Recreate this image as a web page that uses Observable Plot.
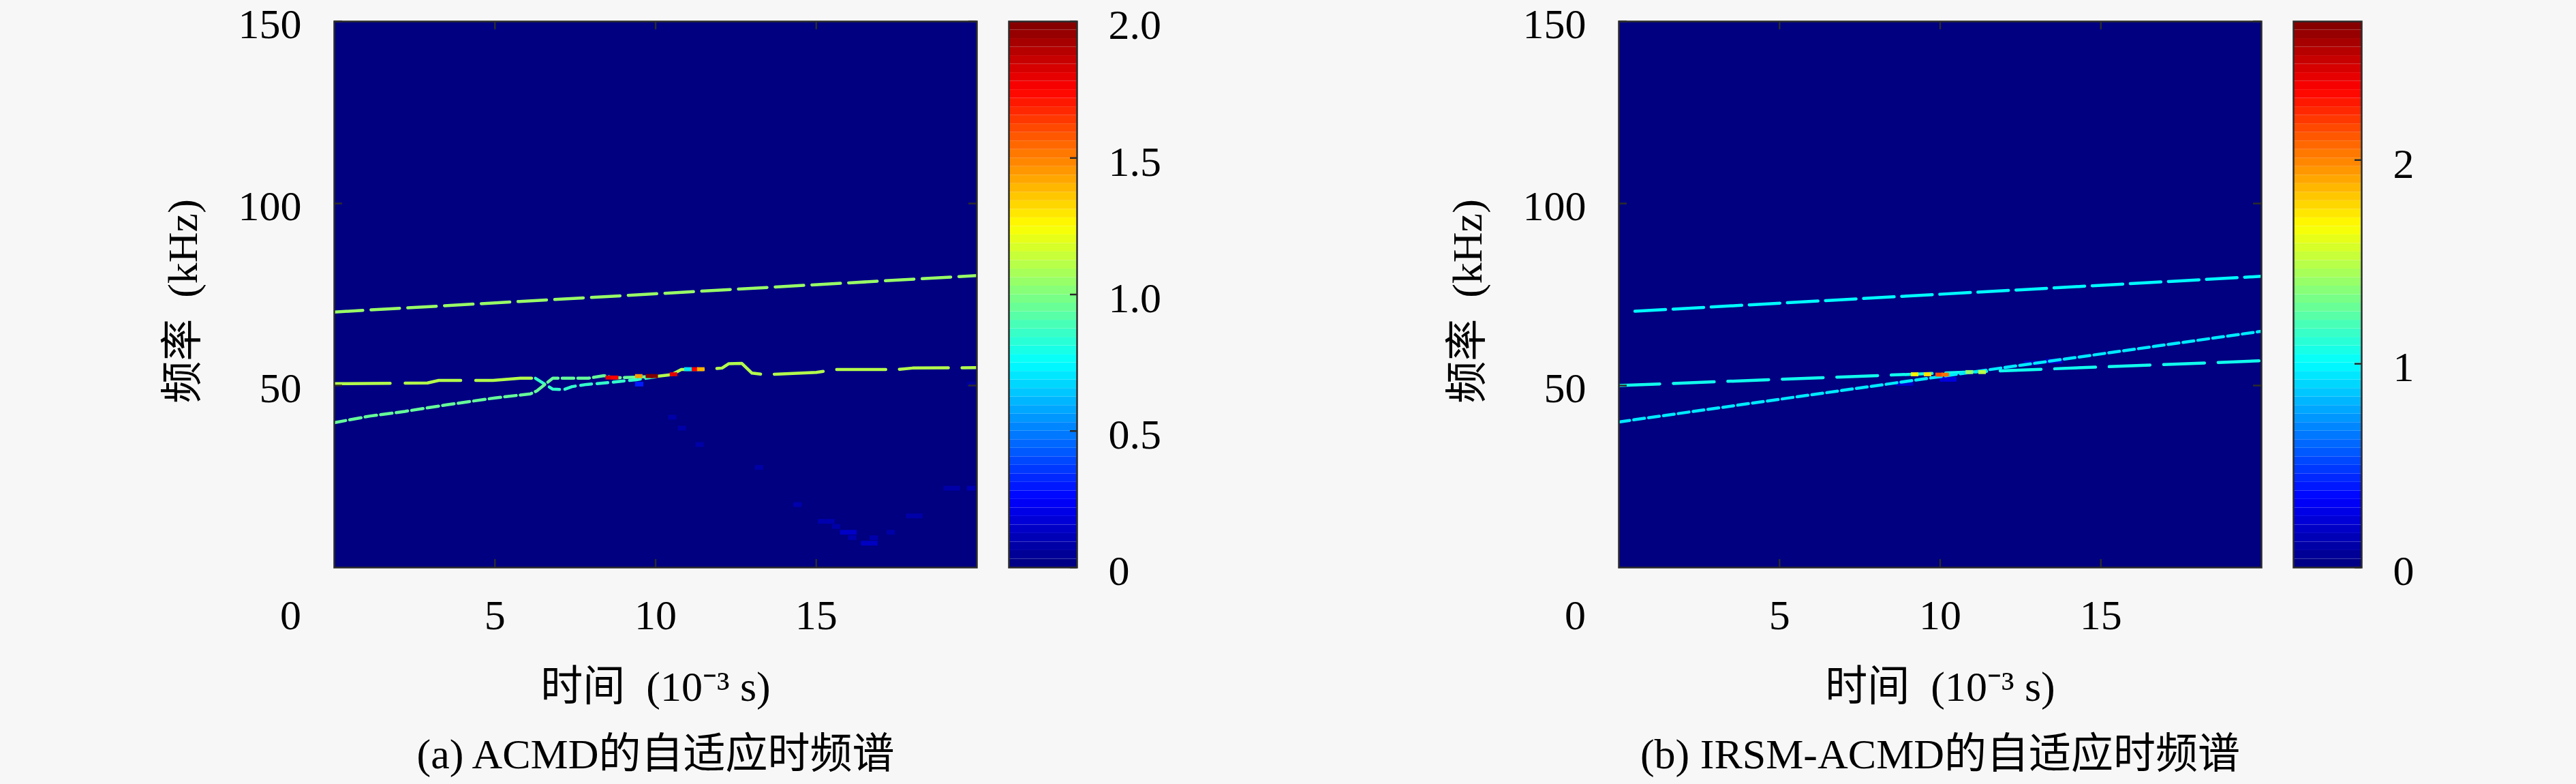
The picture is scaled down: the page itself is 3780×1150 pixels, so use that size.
<!DOCTYPE html>
<html><head><meta charset="utf-8">
<script src="https://cdn.jsdelivr.net/npm/d3@7"></script>
<script src="https://cdn.jsdelivr.net/npm/@observablehq/plot@0.6"></script>
<style>
html,body{margin:0;padding:0;background:#f7f7f7;}
#root{position:relative;width:3780px;height:1150px;overflow:hidden;background:#f7f7f7;}
#root > div{position:absolute;top:0;}
</style></head>
<body><div id="root"></div>
<script>
// ---------- data ----------
const timeTicks = [5, 10, 15];
const timeZero = [0];
const freqTicks = [50, 100, 150];
const acmdBarTicks = [0, 0.5, 1, 1.5, 2];
const acmdBarLabels = ["0", "0.5", "1.0", "1.5", "2.0"];
const irsmBarTicks = [0, 1, 2];
const irsmBarLabels = ["0", "1", "2"];
const acmdMax = 2.0;
const irsmMax = 2.68;
const yLabel = "频率\u2002(kHz)";
const xLabel = "时间\u2002(10⁻³ s)";
const captionA = "(a) ACMD的自适应时频谱";
const captionB = "(b) IRSM-ACMD的自适应时频谱";

// ACMD ridges (time ms, freq kHz), amplitude
const acmdUpperT = [0, 20];
const acmdUpperF = [70.2, 80.2];
const acmdUpperA = 1.05;
const acmdMidT = [0, 2.9, 3.25, 4.94, 5.8, 6.26];
const acmdMidF = [50.5, 50.7, 51.4, 51.4, 52.0, 52.0];
const acmdMidA = 1.1;
const acmdCrossT = [6.26, 6.8, 7.15, 7.4, 7.85, 8.4, 9.4, 10.0];
const acmdCrossF = [52.0, 49.0, 48.9, 49.7, 50.3, 50.7, 51.6, 52.4];
const acmdCrossA = 0.85;
const acmdLowT = [0, 1.1, 2.2, 3.5, 5.0, 6.1, 6.3, 6.8, 7.9, 8.4, 8.7, 10.0];
const acmdLowF = [39.8, 41.6, 42.9, 44.7, 46.6, 47.7, 48.5, 52.0, 52.0, 52.7, 52.1, 52.5];
const acmdLowA = 0.95;
const acmdTailT = [10.0, 10.5, 10.8, 11.5, 12.07, 12.28, 12.68, 13.0, 13.4, 15.0, 15.6, 17.5, 18.0, 20];
const acmdTailF = [52.5, 53.0, 54.4, 54.4, 54.8, 56.0, 56.1, 53.4, 53.0, 53.6, 54.4, 54.4, 54.8, 54.9];
const acmdTailA = 1.1;
// ACMD hot spots
const acmdHotT = [8.45, 8.62, 9.37, 9.7, 9.85, 10.45, 11.1, 11.3, 10.9];
const acmdHotF = [52.1, 52.1, 52.5, 52.5, 52.5, 53.0, 54.4, 54.4, 54.4];
const acmdHotA = [1.8, 1.75, 1.45, 2.0, 2.0, 1.8, 1.75, 1.4, 0.7];
// ACMD faint cells
const acmdCellT = [9.37, 10.4, 10.7, 11.25, 13.1, 14.3, 15.06, 15.5, 15.75, 16.0, 16.4, 16.67, 17.2, 17.8, 18.97, 19.7, 19.7];
const acmdCellF = [50.3, 41.2, 38.2, 33.7, 27.4, 17.2, 12.6, 11.2, 9.6, 8.1, 6.6, 8.1, 9.6, 14.1, 21.7, 21.7, 50.3];
const acmdCellA = [0.3, 0.08, 0.08, 0.08, 0.08, 0.09, 0.09, 0.08, 0.14, 0.09, 0.13, 0.09, 0.08, 0.08, 0.08, 0.1, 0.06];
const acmdCellW = [1, 1, 1, 1, 1, 1, 2, 1, 2, 1, 2, 1, 1, 2, 2, 1, 1];

// IRSM-ACMD ridges
const irsmUpperT = [0.5, 20];
const irsmUpperF = [70.4, 80.0];
const irsmUpperA = 1.0;
const irsmMidT = [0, 20];
const irsmMidF = [50.0, 56.8];
const irsmMidA = 1.05;
const irsmLowT = [0, 20];
const irsmLowF = [40.0, 64.9];
const irsmLowA = 0.95;
const irsmHotT = [9.1, 9.5, 9.86, 10.05, 10.8, 11.2];
const irsmHotF = [53.0, 53.0, 52.9, 52.9, 53.6, 53.6];
const irsmHotA = [1.7, 1.75, 2.15, 2.05, 1.4, 1.5];
const irsmCellT = [12.6, 13.3, 8.65, 10.0];
const irsmCellF = [56.1, 56.6, 50.5, 51.6];
const irsmCellA = [0.15, 0.2, 0.2, 0.25];
const irsmCellW = [2, 2, 2, 2];

// ---------- helpers ----------
function jet(t) {
  const c = x => Math.max(0, Math.min(1, x));
  const r = c(1.5 - Math.abs(4 * t - 3)), g = c(1.5 - Math.abs(4 * t - 2)), b = c(1.5 - Math.abs(4 * t - 1));
  return `rgb(${Math.round(r * 255)},${Math.round(g * 255)},${Math.round(b * 255)})`;
}
const rows = (T, F, a) => T.map((t, i) => ({t, f: F[i], a}));
const spots = (T, F, A, Wd) => T.map((t, i) => ({t, f: F[i], a: A[i], w: Wd ? Wd[i] : 1}));

const H = 1150, FW = 943, FH = 801, MT = 31, MB = H - MT - FH;
const FONT = `"Liberation Serif", "Noto Sans CJK SC", serif`;
const INK = "#2b2b2b";
const binT = 0.26, binF = 1.3;
const style = {fontFamily: FONT, fontSize: "62px", background: "transparent", color: "#000", overflow: "visible"};

function mainPanel(cfg) {
  const ML = 300, MR = 30;
  const colour = {type: "linear", domain: [0, cfg.max], interpolate: jet, clamp: true};
  return Plot.plot({
    width: ML + FW + MR, height: H,
    marginLeft: ML, marginRight: MR, marginTop: MT, marginBottom: MB,
    x: {domain: [0, 20], axis: null},
    y: {domain: [0, 150], axis: null},
    color: colour,
    style,
    marks: [
      Plot.frame({fill: jet(0), stroke: null}),
      Plot.rect(cfg.cells, {x1: d => d.t, x2: d => d.t + d.w * binT, y1: d => d.f - binF / 2, y2: d => d.f + binF / 2, fill: "a", clip: true}),
      ...cfg.ridges.map(r => Plot.line(r.data, {x: "t", y: "f", stroke: "a", strokeWidth: 4.5, strokeDasharray: r.dash, clip: true})),
      Plot.rect(cfg.hot, {x1: d => d.t, x2: d => d.t + binT * 0.9, y1: d => d.f - binF / 2.4, y2: d => d.f + binF / 2.4, fill: "a", clip: true}),
      Plot.frame({stroke: INK, strokeWidth: 2.5}),
      Plot.ruleX(timeTicks, {x: d => d, insetTop: FH - 12, stroke: INK, strokeWidth: 2.5}),
      Plot.ruleX(timeTicks, {x: d => d, insetBottom: FH - 12, stroke: INK, strokeWidth: 2.5}),
      Plot.ruleY(freqTicks, {y: d => d, insetRight: FW - 12, stroke: INK, strokeWidth: 2.5}),
      Plot.ruleY(freqTicks, {y: d => d, insetLeft: FW - 12, stroke: INK, strokeWidth: 2.5}),
      Plot.text(timeTicks, {x: d => d, frameAnchor: "bottom", lineAnchor: "middle", dy: 71, text: d => String(d)}),
      Plot.text(timeZero, {x: d => d, frameAnchor: "bottom", lineAnchor: "middle", dx: -64, dy: 71, text: d => String(d)}),
      Plot.text(freqTicks, {y: d => d, frameAnchor: "left", lineAnchor: "middle", dx: -48, dy: 5, textAnchor: "end", text: d => String(d)}),
      Plot.text([yLabel], {frameAnchor: "left", textAnchor: "middle", lineAnchor: "middle", dx: -221, dy: 10, rotate: -90, text: d => d}),
      Plot.text([xLabel], {frameAnchor: "bottom", textAnchor: "middle", lineAnchor: "middle", dy: 176, text: d => d}),
      Plot.text([cfg.caption], {frameAnchor: "bottom", textAnchor: "middle", lineAnchor: "middle", dy: 275, text: d => d})
    ]
  });
}

function colorBar(cfg) {
  const ML = 20, MR = 250, BW = 100;
  const bands = d3.range(64).map(i => ({y1: i * cfg.max / 64, y2: (i + 1) * cfg.max / 64, v: (i + 0.5) * cfg.max / 64}));
  return Plot.plot({
    width: ML + BW + MR, height: H,
    marginLeft: ML, marginRight: MR, marginTop: MT, marginBottom: MB,
    x: {domain: [0, 1], axis: null},
    y: {domain: [0, cfg.max], axis: null},
    color: {type: "linear", domain: [0, cfg.max], interpolate: jet, clamp: true},
    style,
    marks: [
      Plot.rect(bands, {y1: "y1", y2: "y2", fill: "v"}),
      Plot.frame({stroke: INK, strokeWidth: 2.5}),
      Plot.ruleY(cfg.ticks, {y: d => d, insetLeft: BW - 10, stroke: INK, strokeWidth: 2.5}),
      Plot.text(cfg.ticks, {y: d => d, frameAnchor: "right", lineAnchor: "middle", dx: 46, dy: 6, textAnchor: "start", text: (d, i) => cfg.labels[i]})
    ]
  });
}

function place(node, left) {
  const div = document.createElement("div");
  div.style.left = left + "px";
  div.appendChild(node);
  document.getElementById("root").appendChild(div);
}

const panelA = {
  max: acmdMax,
  caption: captionA,
  cells: spots(acmdCellT, acmdCellF, acmdCellA, acmdCellW),
  hot: spots(acmdHotT, acmdHotF, acmdHotA),
  ridges: [
    {data: rows(acmdUpperT, acmdUpperF, acmdUpperA), dash: "42,12"},
    {data: rows(acmdMidT, acmdMidF, acmdMidA), dash: "82,22"},
    {data: rows(acmdCrossT, acmdCrossF, acmdCrossA), dash: "16,8"},
    {data: rows(acmdLowT, acmdLowF, acmdLowA), dash: "17,6"},
    {data: rows(acmdTailT, acmdTailF, acmdTailA), dash: "72,20"}
  ]
};
const panelB = {
  max: irsmMax,
  caption: captionB,
  cells: spots(irsmCellT, irsmCellF, irsmCellA, irsmCellW),
  hot: spots(irsmHotT, irsmHotF, irsmHotA),
  ridges: [
    {data: rows(irsmUpperT, irsmUpperF, irsmUpperA), dash: "45,11"},
    {data: rows(irsmMidT, irsmMidF, irsmMidA), dash: "60,20"},
    {data: rows(irsmLowT, irsmLowF, irsmLowA), dash: "16,6"}
  ]
};

place(mainPanel(panelA), 490 - 300);
place(colorBar({max: acmdMax, ticks: acmdBarTicks, labels: acmdBarLabels}), 1480 - 20);
place(mainPanel(panelB), 2375 - 300);
place(colorBar({max: irsmMax, ticks: irsmBarTicks, labels: irsmBarLabels}), 3365 - 20);
</script>
</body></html>
